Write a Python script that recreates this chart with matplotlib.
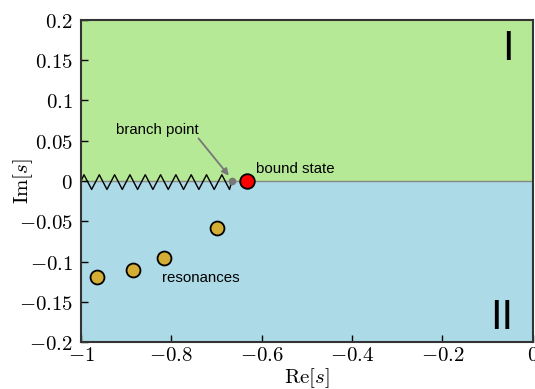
import numpy as np
import matplotlib
matplotlib.use("Agg")
import matplotlib.pyplot as plt
from matplotlib.ticker import FixedLocator, FuncFormatter

plt.rcParams['mathtext.fontset'] = 'cm'

# data
bound_state = (-0.633, 0.0)
branch_point = (-0.666, 0.0)
res_re = [-0.965, -0.885, -0.816, -0.700]
res_im = [-0.119, -0.111, -0.096, -0.058]
xticks = [-1, -0.8, -0.6, -0.4, -0.2, 0]
yticks = [-0.2, -0.15, -0.1, -0.05, 0, 0.05, 0.1, 0.15, 0.2]

fig = plt.figure(figsize=(5.35, 3.89), dpi=100)
ax = fig.add_axes([0.1514, 0.1208, 0.8446, 0.8278])
ax.set_xlim(-1, 0)
ax.set_ylim(-0.2, 0.2)

ax.axhspan(0, 0.2, color='#b5e996', zorder=0, lw=0)
ax.axhspan(-0.2, 0, color='#acdae6', zorder=0, lw=0)
ax.axhline(0, color='#888888', lw=1.0, zorder=1)

# branch cut zigzag (decorative)
n_teeth = 10
period = 0.0339
amp_up, amp_dn = 0.0078, -0.0105
k = np.arange(n_teeth)
peaks = -1 + 0.0066 + k * period
valleys = peaks + period / 2
zx = np.concatenate([[-1], np.ravel(np.column_stack([peaks, valleys])), [branch_point[0]]])
zy = np.concatenate([[0], np.ravel(np.column_stack([np.full(n_teeth, amp_up), np.full(n_teeth, amp_dn)])), [branch_point[1]]])
ax.plot(zx, zy, color='black', lw=1.0, zorder=2)

ax.plot(*branch_point, 'o', color='#777777', ms=4.5, zorder=3)
ax.plot(*bound_state, 'o', mfc='red', mec='black', mew=1.3, ms=10.5, zorder=4)
ax.plot(res_re, res_im, 'o', mfc='#d4ad35', mec='black', mew=1.3, ms=10, ls='none', zorder=4)

sans = 'Liberation Sans'
fs = 10.8
ax.text(-0.922, 0.059, 'branch point', fontsize=fs, family=sans)
ax.annotate('', xy=(branch_point[0] - 0.003, branch_point[1] + 0.004),
            xytext=(-0.74, 0.053),
            arrowprops=dict(arrowstyle='-|>', color='#777777', lw=1.3,
                            shrinkA=0, shrinkB=2, mutation_scale=10))
ax.text(-0.613, 0.010, 'bound state', fontsize=fs, family=sans)
ax.text(-0.82, -0.125, 'resonances', fontsize=fs, family=sans)
ax.text(-0.0564, 0.164, 'I', fontsize=30, family=sans, ha='center', va='center')
ax.text(-0.069, -0.170, 'II', fontsize=30, family=sans, ha='center', va='center')

def fmt(v, pos):
    s = '%g' % v
    if abs(v) < 1e-12:
        s = '0'
    return '$%s$' % s

ax.xaxis.set_major_locator(FixedLocator(xticks))
ax.yaxis.set_major_locator(FixedLocator(yticks))
ax.xaxis.set_major_formatter(FuncFormatter(fmt))
ax.yaxis.set_major_formatter(FuncFormatter(fmt))
ax.tick_params(direction='in', length=5, width=1, labelsize=15, top=False, right=False)
ax.tick_params(axis='y', pad=6)
ax.tick_params(axis='x', pad=2)
for s in ax.spines.values():
    s.set_color('#333333')
    s.set_linewidth(1.5)

ax.set_xlabel(r'$\mathrm{Re}[s]$', fontsize=15, labelpad=1)
ax.set_ylabel(r'$\mathrm{Im}[s]$', fontsize=15)
ax.yaxis.set_label_coords(-0.102, 0.5)

fig.savefig('out.png', dpi=100)
